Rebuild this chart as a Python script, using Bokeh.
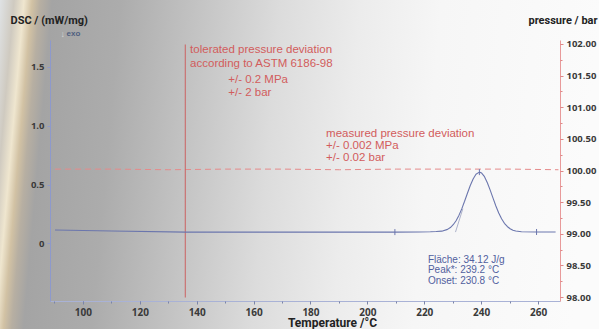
from bokeh.plotting import figure
from bokeh.models import Range1d, LinearAxis, FixedTicker, Label, NumeralTickFormatter
from bokeh.embed import file_html
from bokeh.resources import INLINE
import math

# ---- data ----
temp = [90, 110, 136, 160, 190, 209.5, 218, 222, 224, 226, 228, 229, 230, 231, 232, 233, 234, 235,
        236, 237, 238, 239.2, 240, 241, 242, 243, 244, 245, 246, 247, 248, 249, 250, 251, 252,
        254, 259.3, 266]
dsc = [0.118, 0.110, 0.100, 0.100, 0.100, 0.100, 0.101, 0.103, 0.105, 0.108, 0.123, 0.139, 0.163,
       0.197, 0.242, 0.297, 0.362, 0.430, 0.496, 0.552, 0.592, 0.610, 0.602, 0.571, 0.520, 0.457,
       0.389, 0.322, 0.263, 0.214, 0.175, 0.148, 0.129, 0.116, 0.109, 0.103, 0.101, 0.101]

p_temp = [90, 110, 130, 150, 170, 190, 210, 230, 250, 267]
pressure = [100.03, 100.03, 100.02, 100.03, 100.03, 100.02, 100.03, 100.03, 100.03, 100.02]

tol_temp = [135.8, 135.8]
tol_pressure = [98.0, 102.0]

onset_temp = [230.8, 233.4]
onset_dsc = [0.100, 0.300]

mark_temp = [209.5, 239.2, 259.3]
mark_dsc = [0.100, 0.610, 0.101]

x_ticks = [100, 120, 140, 160, 180, 200, 220, 240, 260]
dsc_ticks = [0, 0.5, 1.0, 1.5]
dsc_tick_labels = ["0", "0.5", "1.0", "1.5"]
p_ticks = [98.0, 98.5, 99.0, 99.5, 100.0, 100.5, 101.0, 101.5, 102.0]

# ---- figure ----
p = figure(width=599, height=329, output_backend="svg", toolbar_location=None,
           x_range=Range1d(88.42, 267.72), y_range=Range1d(-0.49, 1.729),
           min_border_left=50, min_border_right=39, min_border_top=40, min_border_bottom=28)
p.background_fill_color = None
p.border_fill_color = None
p.outline_line_color = None
p.xgrid.grid_line_color = None
p.ygrid.grid_line_color = None
p.styles = {"background": "linear-gradient(95deg, #dfe2e4 0px, #cfcac0 14px, #efe6cf 24px, "
                          "#d2c2a4 32px, #b7afa2 40px, #a4a4a4 52px, #acacac 120px, #c4c4c4 200px, "
                          "#dcdcdc 280px, #ececec 360px, #f6f6f6 440px, #fbfbfb 599px)"}

p.extra_y_ranges = {"pressure": Range1d(97.937, 102.063)}

tick_font = "Open Sans"
tick_col = "#3a3a3a"

# left axis
ya = p.yaxis[0]
ya.ticker = FixedTicker(ticks=dsc_ticks)
ya.major_label_overrides = {t: l for t, l in zip(dsc_ticks, dsc_tick_labels)}
ya.axis_line_color = "#8d99cc"
ya.major_tick_line_color = "#8d99cc"
ya.minor_tick_line_color = None
ya.major_tick_out = 3
ya.major_tick_in = 0
ya.major_label_standoff = 3
ya.major_label_text_font = tick_font
ya.major_label_text_font_style = "bold"
ya.major_label_text_font_size = "9.5px"
ya.major_label_text_color = tick_col

# bottom axis
xa = p.xaxis[0]
xa.ticker = FixedTicker(ticks=x_ticks, minor_ticks=[90 + 10 * i for i in range(18)])
xa.axis_line_color = "#a9b2d6"
xa.major_tick_line_color = "#7a84a8"
xa.minor_tick_line_color = "#7a84a8"
xa.major_tick_out = 3
xa.major_tick_in = 0
xa.minor_tick_out = 2
xa.minor_tick_in = 0
xa.major_label_standoff = 3
xa.major_label_text_font = tick_font
xa.major_label_text_font_style = "bold"
xa.major_label_text_font_size = "10px"
xa.major_label_text_color = tick_col

# right axis
ra = LinearAxis(y_range_name="pressure")
ra.ticker = FixedTicker(ticks=p_ticks, minor_ticks=[98 + 0.25 * i for i in range(17)])
ra.formatter = NumeralTickFormatter(format="0.00")
ra.axis_line_color = "#e89a9a"
ra.major_tick_line_color = "#e08888"
ra.minor_tick_line_color = "#e08888"
ra.major_tick_out = 3
ra.major_tick_in = 0
ra.minor_tick_out = 2
ra.minor_tick_in = 0
ra.major_label_standoff = 3
ra.major_label_text_font = tick_font
ra.major_label_text_font_style = "bold"
ra.major_label_text_font_size = "9.5px"
ra.major_label_text_color = tick_col
p.add_layout(ra, "right")

# ---- glyphs ----
p.line(p_temp, pressure, y_range_name="pressure", line_color="#e58a8a", line_width=1,
       line_dash="6 4")
p.line(tol_temp, tol_pressure, y_range_name="pressure", line_color="#cc6262", line_width=1)
p.line(temp, dsc, line_color="#6b76ad", line_width=1.1)
p.line(onset_temp, onset_dsc, line_color="#a4a9c4", line_width=0.9)
p.scatter(mark_temp, mark_dsc, marker="dash", angle=math.pi / 2, size=6,
          line_color="#6b76ad", line_width=1)

# ---- annotations ----
red = "#d25c5c"
blue = "#51609e"
afont = "Liberation Sans"
def lab(x, y, t, col, size="11.5px", **kw):
    p.add_layout(Label(x=x, y=y, text=t, text_color=col, text_font=afont,
                       text_font_size=size, text_baseline="middle", **kw))

lab(137.5, 1.653, "tolerated pressure deviation", red)
lab(137.5, 1.534, "according to ASTM 6186-98", red)
lab(150.9, 1.398, "+/-  0.2 MPa", red)
lab(150.9, 1.288, "+/-  2 bar", red)
lab(185.3, 0.941, "measured pressure deviation", red)
lab(185.3, 0.839, "+/- 0.002 MPa", red)
lab(185.3, 0.737, "+/- 0.02 bar", red)
lab(221.1, -0.136, "Fläche:   34.12 J/g", blue, "10px")
lab(221.1, -0.220, "Peak*:    239.2 °C", blue, "10px")
lab(221.1, -0.314, "Onset:    230.8 °C", blue, "10px")

def slab(side, x, y, t, size="11px", col="#222222", align="left", style="bold", fnt="Roboto"):
    p.add_layout(Label(x=x, y=y, x_units="screen", y_units="screen", text=t,
                       text_color=col, text_font=fnt, text_font_size=size,
                       text_font_style=style, text_align=align, text_baseline="middle"), side)

# titles live in side panels so that they are not clipped to the frame
slab("above", -40, 20, "DSC / (mW/mg)")
slab("above", 547, 7, "pressure / bar", align="right")
slab("above", 282, -308, "Temperature /°C", size="12px", align="center")
slab("left", 38, 268, "↓", size="9px", col="#d6d6d6", style="normal", fnt="Liberation Sans")
slab("left", 58, 268, "exo", size="8px", col="#4f5f80", style="bold", fnt="Liberation Sans")

open("out.html", "w").write(file_html(p, INLINE))
